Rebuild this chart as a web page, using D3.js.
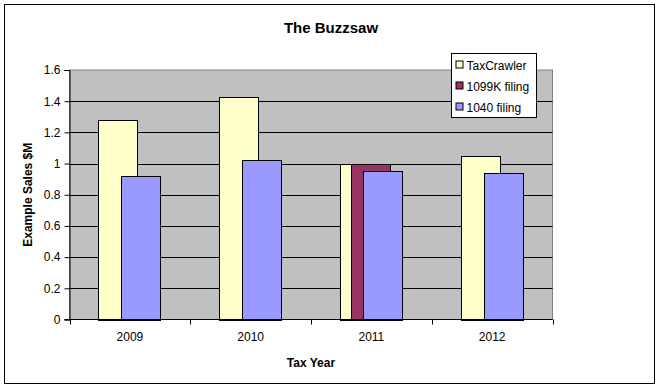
<!DOCTYPE html>
<html>
<head>
<meta charset="utf-8">
<script src="https://cdn.jsdelivr.net/npm/d3@7"></script>
<style>
  body { margin: 0; background: #fff; }
  svg { font-family: "Liberation Sans", Arial, sans-serif; }
</style>
</head>
<body>
<div id="chart"></div>
<script>
const years = ['2009', '2010', '2011', '2012'];
const series = ['TaxCrawler', '1099K filing', '1040 filing'];
const taxCrawler = [1.28, 1.43, 1.0, 1.05];
const filing1099K = [0, 0, 1.0, 0];
const filing1040 = [0.92, 1.02, 0.95, 0.94];
const yTicks = [0, 0.2, 0.4, 0.6, 0.8, 1, 1.2, 1.4, 1.6];
const colors = ['#FFFFCC', '#993366', '#9999FF'];

const values = [taxCrawler, filing1099K, filing1040];

const W = 660, H = 390;
const plot = { left: 69.5, top: 70, right: 552.5, bottom: 319.5 };

const svg = d3.select('#chart').append('svg')
  .attr('width', W).attr('height', H);

// outer frame
svg.append('rect')
  .attr('x', 4.5).attr('y', 4.5).attr('width', 650).attr('height', 379)
  .attr('fill', '#fff').attr('stroke', '#000');

// title
svg.append('text')
  .attr('x', 331).attr('y', 33)
  .attr('text-anchor', 'middle')
  .attr('font-size', 15).attr('font-weight', 'bold')
  .text('The Buzzsaw');

const x = d3.scaleBand().domain(years).range([plot.left, plot.right]).padding(0);
const y = d3.scaleLinear().domain([0, 1.6]).range([plot.bottom, plot.top]);

// plot area background
svg.append('rect')
  .attr('x', plot.left).attr('y', plot.top)
  .attr('width', plot.right - plot.left).attr('height', plot.bottom - plot.top)
  .attr('fill', '#C0C0C0').attr('stroke', '#808080');

// gridlines
svg.append('g').selectAll('line')
  .data(yTicks.filter(d => d > 0 && d < 1.6))
  .enter().append('line')
  .attr('x1', plot.left).attr('x2', plot.right)
  .attr('y1', d => Math.round(y(d)) + 0.5).attr('y2', d => Math.round(y(d)) + 0.5)
  .attr('stroke', '#000');

// bars: overlapping clusters
const barW = 39;
const step = 11.5;
const groupW = barW + step * (series.length - 1);
const offset = d3.scalePoint().domain(series).range([0, step * (series.length - 1)]);

series.forEach((s, i) => {
  svg.append('g').selectAll('rect')
    .data(years.map((yr, j) => ({ yr, v: values[i][j] })).filter(d => d.v > 0))
    .enter().append('rect')
    .attr('x', d => Math.floor(x(d.yr) + (x.bandwidth() - groupW) / 2 + offset(s)) + 0.5)
    .attr('y', d => Math.round(y(d.v)) + 0.5)
    .attr('width', barW)
    .attr('height', d => Math.round(plot.bottom) - Math.round(y(d.v)))
    .attr('fill', colors[i])
    .attr('stroke', '#000');
});

// y axis
const yAxis = svg.append('g')
  .attr('transform', `translate(${plot.left},0)`)
  .call(d3.axisLeft(y).tickValues(yTicks).tickSize(5).tickPadding(4)
    .tickFormat(d => d3.format('')(+d.toFixed(1))));
yAxis.select('.domain').attr('stroke', '#000');
yAxis.selectAll('text').attr('font-size', 12).attr('font-family', '"Liberation Sans", Arial, sans-serif').attr('fill', '#000');

// x axis
const xAxis = svg.append('g')
  .attr('transform', `translate(0,${plot.bottom})`)
  .call(d3.axisBottom(x).tickSize(0).tickPadding(13));
xAxis.select('.domain').remove();
xAxis.selectAll('text').attr('font-size', 12).attr('font-family', '"Liberation Sans", Arial, sans-serif').attr('fill', '#000');
svg.append('line')
  .attr('x1', plot.left - 5).attr('x2', plot.right)
  .attr('y1', plot.bottom).attr('y2', plot.bottom)
  .attr('stroke', '#000');
svg.append('g').selectAll('line')
  .data(years.map(yr => x(yr)).concat([plot.right]))
  .enter().append('line')
  .attr('x1', d => Math.round(d) + 0.5).attr('x2', d => Math.round(d) + 0.5)
  .attr('y1', plot.bottom).attr('y2', plot.bottom + 5)
  .attr('stroke', '#000');

// axis titles
svg.append('text')
  .attr('x', (plot.left + plot.right) / 2).attr('y', 367)
  .attr('text-anchor', 'middle')
  .attr('font-size', 12).attr('font-weight', 'bold')
  .text('Tax Year');
svg.append('text')
  .attr('transform', `translate(32,${(plot.top + plot.bottom) / 2}) rotate(-90)`)
  .attr('text-anchor', 'middle')
  .attr('font-size', 12).attr('font-weight', 'bold')
  .text('Example Sales $M');

// legend
const legend = svg.append('g').attr('transform', 'translate(451.5,53.5)');
legend.append('rect')
  .attr('width', 85).attr('height', 64)
  .attr('fill', '#fff').attr('stroke', '#000');
const item = legend.selectAll('g.item')
  .data(series).enter().append('g')
  .attr('transform', (d, i) => `translate(0,${12 + i * 21})`);
item.append('rect')
  .attr('x', 4.5).attr('y', -4.5).attr('width', 7).attr('height', 7)
  .attr('fill', (d, i) => colors[i]).attr('stroke', '#000');
item.append('text')
  .attr('x', 15).attr('y', 4.5)
  .attr('font-size', 12)
  .text(d => d);
</script>
</body>
</html>
